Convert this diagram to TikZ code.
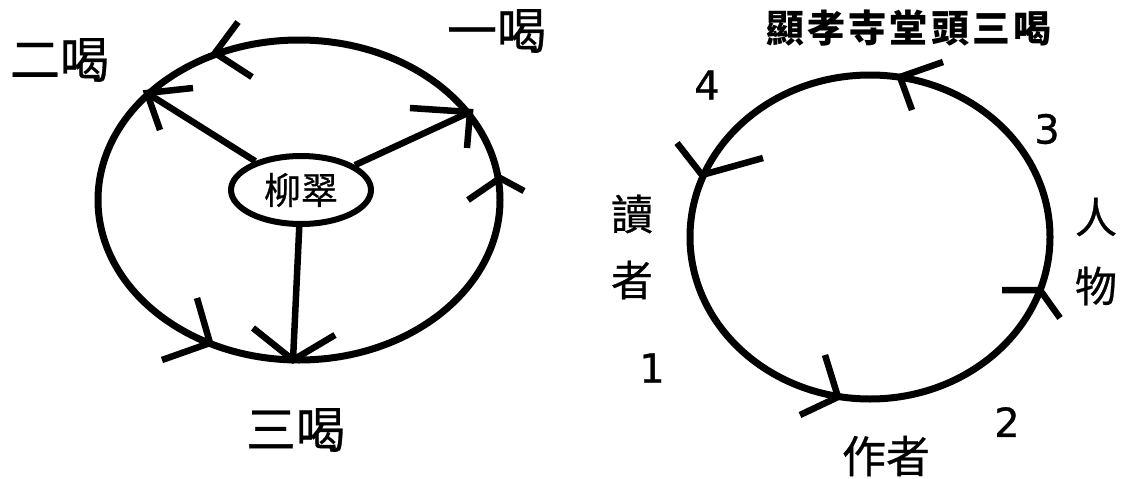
\documentclass[tikz,border=0pt]{standalone}
\usepackage{fontspec}
\usetikzlibrary{shapes.geometric}
\newfontfamily\cjk[FakeBold=0.6]{Noto Sans CJK TC}
\newfontfamily\cjkt[LetterSpace=8]{Noto Sans CJK TC}
\newfontfamily\dig[FakeBold=0.8]{DejaVu Sans}
\begin{document}
\begin{tikzpicture}[x=1pt,y=-1pt,
  ring/.style={line width=7pt},
  link/.style={line width=6.5pt},
  chev/.style={line width=6.5pt},
  big/.style={inner sep=0pt, font=\cjk\fontsize{50}{50}\selectfont},
  mid/.style={inner sep=0pt, font=\cjk\fontsize{42}{42}\selectfont},
  num/.style={inner sep=0pt, font=\dig\fontsize{40}{40}\selectfont}]
\useasboundingbox[fill=white] (0,0) rectangle (1124,479);

% ---------- left diagram ----------
\draw[ring] (299,200) ellipse [x radius=201pt, y radius=160pt];
\node[draw, ellipse, line width=6pt, inner sep=0pt,
      minimum width=140pt, minimum height=68pt,
      font=\cjk\fontsize{37}{37}\selectfont] (lc) at (301,190) {柳翠};

\coordinate (e2) at (147,93);
\coordinate (e1) at (470,112);
\coordinate (e3) at (293,360);
\draw[link] (lc) -- (e2);
\draw[link] (lc) -- (e1);
\draw[link] (lc) -- (e3);
\draw[chev] (193,88) -- (e2) -- (160,130);
\draw[chev] (410,108) -- (e1) -- (467,148);
\draw[chev] (253,328) -- (e3) -- (335,335);

% arrowheads on the big ellipse
\draw[chev] (238,22) -- (215,53) -- (252,77);
\draw[chev] (468,200) -- (500,178) -- (524,191);
\draw[chev] (197,298) -- (210,343) -- (162,360);

\node[big] (t2) at (60,60) {二喝};
\node[big] (t1) at (497,31) {一喝};
\node[big] (t3) at (296,430) {三喝};

% ---------- right diagram ----------
\draw[ring] (870,237) ellipse [x radius=180pt, y radius=162pt];
\draw[chev] (943,62) -- (900,77) -- (912,110);
\draw[chev] (677,143) -- (702,175) -- (763,158);
\draw[chev] (825,355) -- (838,397) -- (800,415);
\draw[chev] (1002,290) -- (1040,290) -- (1060,318);

\node[inner sep=0pt, font=\cjkt\bfseries\fontsize{38}{38}\selectfont] (title) at (909,28) {顯孝寺堂頭三喝};
\node[num] (n4) at (707,85) {4};
\node[num] (n3) at (1047,129) {3};
\node[num] (n1) at (652,368) {1};
\node[num] (n2) at (1007,422) {2};
\node[mid] (r1) at (632,214) {讀};
\node[mid] (r2) at (632,280) {者};
\node[mid] (p1) at (1096,217) {人};
\node[mid] (p2) at (1096,286) {物};
\node[inner sep=0pt, font=\cjk\fontsize{44}{44}\selectfont] (au) at (886,456) {作者};
\end{tikzpicture}
\end{document}
